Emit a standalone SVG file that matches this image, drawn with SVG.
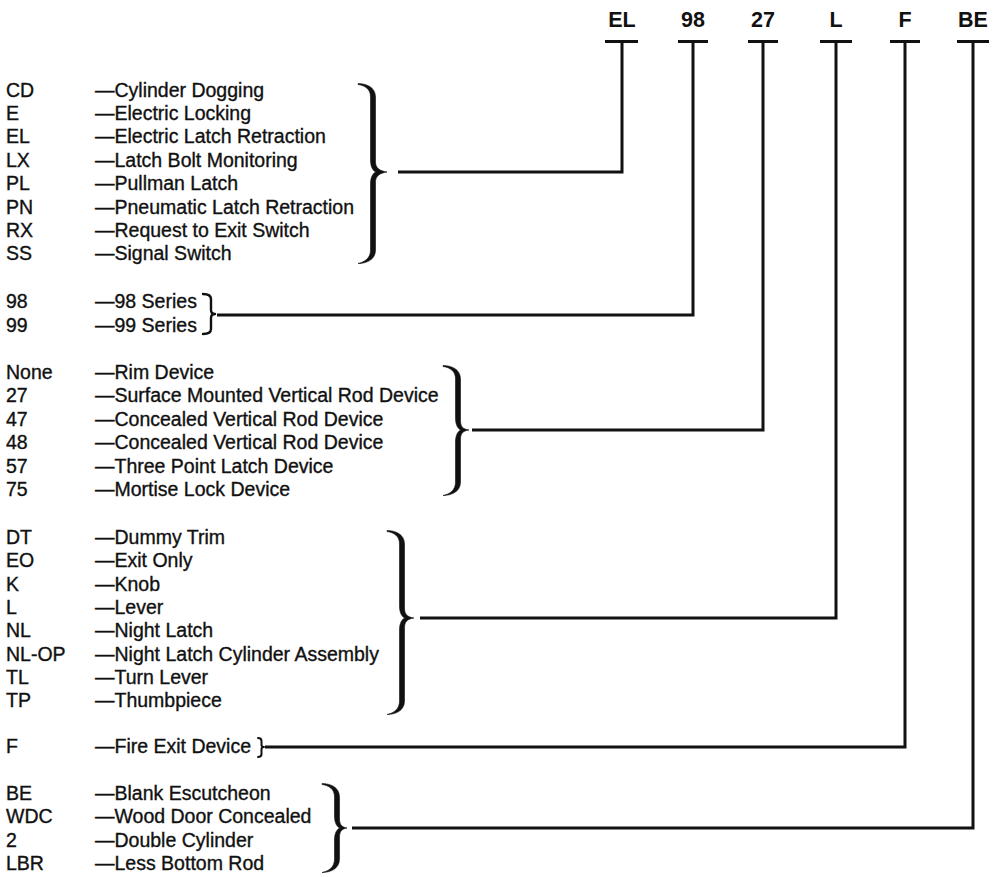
<svg xmlns="http://www.w3.org/2000/svg" width="997" height="877" viewBox="0 0 997 877">
<style>
  text { font-family: "Liberation Sans", Arial, sans-serif; fill: #111; }
  .t { font-size: 19.5px; stroke: #111; stroke-width: 0.35; }
  .h { font-size: 21.5px; font-weight: bold; text-anchor: middle; }
  .brace { fill: #111; stroke: #111; stroke-width: 0.6; stroke-linejoin: round; }
  .sbrace { fill: none; stroke: #111; stroke-width: 2.4; stroke-linejoin: round; stroke-linecap: round; }
  .bar { stroke: #111; stroke-width: 3; fill: none; }
  .conn { fill: none; stroke: #111; stroke-width: 3; stroke-linejoin: miter; }
</style>
<rect width="997" height="877" fill="#fff"/>

<g id="header-EL"><text class="h" x="622" y="27">EL</text><line class="bar" x1="605" y1="41.5" x2="638" y2="41.5"/></g>
<g id="header-98"><text class="h" x="693" y="27">98</text><line class="bar" x1="678" y1="41.5" x2="708" y2="41.5"/></g>
<g id="header-27"><text class="h" x="763" y="27">27</text><line class="bar" x1="748" y1="41.5" x2="778" y2="41.5"/></g>
<g id="header-L"><text class="h" x="836" y="27">L</text><line class="bar" x1="820" y1="41.5" x2="852" y2="41.5"/></g>
<g id="header-F"><text class="h" x="905" y="27">F</text><line class="bar" x1="890" y1="41.5" x2="920" y2="41.5"/></g>
<g id="header-BE"><text class="h" x="973" y="27">BE</text><line class="bar" x1="957" y1="41.5" x2="989" y2="41.5"/></g>

<g id="group-electric" class="t">
  <text x="6" y="96.5">CD</text><text x="95" y="96.5">—Cylinder Dogging</text>
  <text x="6" y="119.9">E</text><text x="95" y="119.9">—Electric Locking</text>
  <text x="6" y="143.3">EL</text><text x="95" y="143.3">—Electric Latch Retraction</text>
  <text x="6" y="166.7">LX</text><text x="95" y="166.7">—Latch Bolt Monitoring</text>
  <text x="6" y="190.1">PL</text><text x="95" y="190.1">—Pullman Latch</text>
  <text x="6" y="213.5">PN</text><text x="95" y="213.5">—Pneumatic Latch Retraction</text>
  <text x="6" y="236.9">RX</text><text x="95" y="236.9">—Request to Exit Switch</text>
  <text x="6" y="260.3">SS</text><text x="95" y="260.3">—Signal Switch</text>
  <path class="brace" d="M358,83.5 C366,83.5 375.5,87 375.5,97 L375.5,162 C375.5,168 380,171 387,172 C380,173 375.5,176 375.5,182 L375.5,250 C375.5,260 366,263.5 358,263.5 C365,262 370.5,258 370.5,250 L370.5,184 C370.5,177 373,173 376,172 C373,171 370.5,167 370.5,160 L370.5,97 C370.5,89 365,85.5 358,84.5 Z"/>
</g>

<g id="group-series" class="t">
  <text x="6" y="308">98</text><text x="95" y="308">—98 Series</text>
  <text x="6" y="332">99</text><text x="95" y="332">—99 Series</text>
  <path class="sbrace" d="M203,294 Q211,294 211,299 L211,310 Q211,314 215,314 Q211,314 211,318 L211,329 Q211,334 203,334"/>
</g>

<g id="group-device" class="t">
  <text x="6" y="379">None</text><text x="95" y="379">—Rim Device</text>
  <text x="6" y="402.4">27</text><text x="95" y="402.4">—Surface Mounted Vertical Rod Device</text>
  <text x="6" y="425.8">47</text><text x="95" y="425.8">—Concealed Vertical Rod Device</text>
  <text x="6" y="449.2">48</text><text x="95" y="449.2">—Concealed Vertical Rod Device</text>
  <text x="6" y="472.6">57</text><text x="95" y="472.6">—Three Point Latch Device</text>
  <text x="6" y="496">75</text><text x="95" y="496">—Mortise Lock Device</text>
  <path class="brace" d="M443,365.5 C451,365.5 460.5,369 460.5,379 L460.5,420 C460.5,426 462,429 469,430 C462,431 460.5,434 460.5,440 L460.5,482 C460.5,492 451,495.5 443,495.5 C450,494 455.5,490 455.5,482 L455.5,442 C455.5,435 458,431 461,430 C458,429 455.5,425 455.5,418 L455.5,379 C455.5,371 450,367.5 443,366.5 Z"/>
</g>

<g id="group-trim" class="t">
  <text x="6" y="544">DT</text><text x="95" y="544">—Dummy Trim</text>
  <text x="6" y="567.3">EO</text><text x="95" y="567.3">—Exit Only</text>
  <text x="6" y="590.6">K</text><text x="95" y="590.6">—Knob</text>
  <text x="6" y="613.9">L</text><text x="95" y="613.9">—Lever</text>
  <text x="6" y="637.2">NL</text><text x="95" y="637.2">—Night Latch</text>
  <text x="6" y="660.5">NL-OP</text><text x="95" y="660.5">—Night Latch Cylinder Assembly</text>
  <text x="6" y="683.8">TL</text><text x="95" y="683.8">—Turn Lever</text>
  <text x="6" y="707.1">TP</text><text x="95" y="707.1">—Thumbpiece</text>
  <path class="brace" d="M387,530.5 C395,530.5 404.5,534 404.5,544 L404.5,608 C404.5,614 407,617 414,618 C407,619 404.5,622 404.5,628 L404.5,701 C404.5,711 395,714.5 387,714.5 C394,713 399.5,709 399.5,701 L399.5,630 C399.5,623 402,619 405,618 C402,617 399.5,613 399.5,606 L399.5,544 C399.5,536 394,532.5 387,531.5 Z"/>
</g>

<g id="group-fire" class="t">
  <text x="6" y="753">F</text><text x="95" y="753">—Fire Exit Device</text>
  <path class="sbrace" d="M258,738 Q261.5,738 261.5,741 L261.5,745 Q261.5,747 264,747 Q261.5,747 261.5,749 L261.5,754 Q261.5,757 258,757" style="stroke-width:2"/>
</g>

<g id="group-options" class="t">
  <text x="6" y="800">BE</text><text x="95" y="800">—Blank Escutcheon</text>
  <text x="6" y="823.3">WDC</text><text x="95" y="823.3">—Wood Door Concealed</text>
  <text x="6" y="846.6">2</text><text x="95" y="846.6">—Double Cylinder</text>
  <text x="6" y="870">LBR</text><text x="95" y="870">—Less Bottom Rod</text>
  <path class="brace" d="M322,783.5 C330,783.5 339.5,787 339.5,797 L339.5,818 C339.5,824 341,827 347,828 C341,829 339.5,832 339.5,838 L339.5,859 C339.5,869 330,872.5 322,872.5 C329,871 334.5,867 334.5,859 L334.5,840 C334.5,833 337,829 340,828 C337,827 334.5,823 334.5,816 L334.5,797 C334.5,789 329,785.5 322,784.5 Z"/>
</g>

<g id="connectors">
  <polyline class="conn" points="398,172 622,172 622,41.5"/>
  <polyline class="conn" points="217,315 693,315 693,41.5"/>
  <polyline class="conn" points="472,430 763,430 763,41.5"/>
  <polyline class="conn" points="420,618 836,618 836,41.5"/>
  <polyline class="conn" points="265,747 905,747 905,41.5"/>
  <polyline class="conn" points="352,828 973,828 973,41.5"/>
</g>
</svg>
